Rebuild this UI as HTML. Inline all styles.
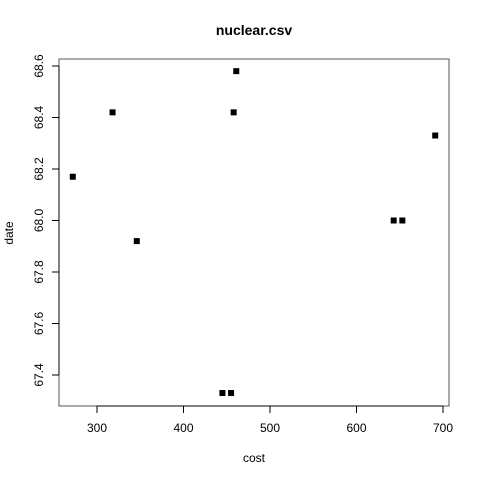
<!DOCTYPE html>
<html><head><meta charset="utf-8"><style>body{margin:0;background:#fff}svg{display:block;font-family:"Liberation Sans",sans-serif}</style></head>
<body>
<svg id="chart" width="480" height="480">
<rect width="480" height="480" fill="#fff"/>
<text x="254" y="35" text-anchor="middle" font-size="14" font-weight="bold">nuclear.csv</text>
<rect x="59" y="59" width="390" height="347" fill="none" stroke="#555"/>
<text x="254" y="462" text-anchor="middle" font-size="12">cost</text>
<text transform="translate(13,233) rotate(-90)" text-anchor="middle" font-size="12">date</text>
<g id="xaxis"></g><g id="yaxis"></g><g id="pts"></g>
</svg>
<script>
const xTicks=[300,400,500,600,700];
const yTicks=[67.4,67.6,67.8,68.0,68.2,68.4,68.6];
const costs=[272,318,346,445,455,458,461,643,653,691];
const dates=[68.17,68.42,67.92,67.33,67.33,68.42,68.58,68.0,68.0,68.33];
const ns="http://www.w3.org/2000/svg";
const sx=v=>97+(v-300)*0.865;
const sy=v=>375-(v-67.4)*257.5;
function mk(t,a,p){const e=document.createElementNS(ns,t);for(const k in a)e.setAttribute(k,a[k]);p.appendChild(e);return e;}
const xa=document.getElementById('xaxis'),ya=document.getElementById('yaxis'),pg=document.getElementById('pts');
mk('line',{x1:sx(300),x2:sx(700),y1:406,y2:406,stroke:'#000'},xa);
xTicks.forEach(v=>{const x=sx(v);
const l=mk('line',{x1:x,x2:x,y1:406,y2:413,stroke:'#000'},xa);


const t=mk('text',{x:x,y:432,'text-anchor':'middle','font-size':12},xa);t.textContent=v;

});
mk('line',{x1:59,x2:59,y1:sy(67.4),y2:sy(68.6),stroke:'#000'},ya);
yTicks.forEach(v=>{const y=sy(v);
const l=mk('line',{x1:52,x2:59,y1:y,y2:y,stroke:'#000'},ya);


const t=mk('text',{transform:`translate(43,${y}) rotate(-90)`,'text-anchor':'middle','font-size':12},ya);t.textContent=v.toFixed(1);

});
costs.forEach((c,i)=>{const r=mk('rect',{x:sx(c)-3,y:sy(dates[i])-3,width:6,height:6,fill:'#000'},pg);

});
</script>
</body></html>
